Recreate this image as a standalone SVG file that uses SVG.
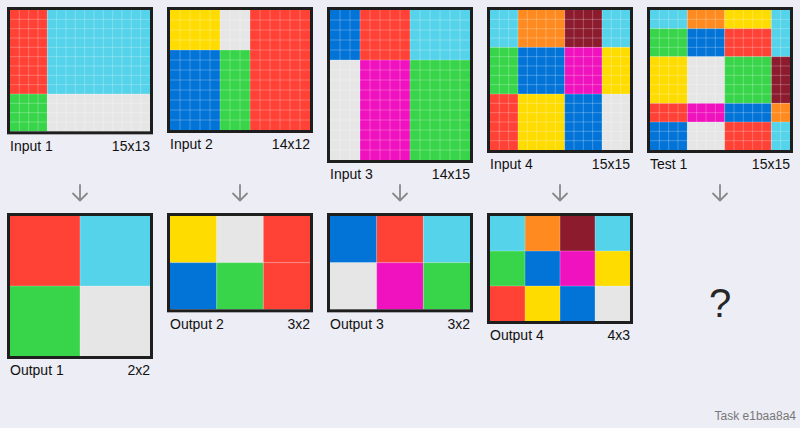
<svg xmlns="http://www.w3.org/2000/svg" width="800" height="428" viewBox="0 0 800 428">
<style>
.bg{fill:#ededf5}
.R{fill:#ff4136}.C{fill:#55d3ea}.G{fill:#38d54a}.Y{fill:#ffdc00}.B{fill:#0274d8}.W{fill:#e6e6e6}.M{fill:#f012be}.O{fill:#ff8a1f}.N{fill:#8c1b2e}
.gl{fill:none;stroke:#ffffff;stroke-opacity:0.32;stroke-width:0.8}
.fr{fill:none;stroke:#1e1e1e;stroke-width:3}
.lb{font-family:"Liberation Sans",Arial,Helvetica,sans-serif;font-size:14px;fill:#111}
.rt{text-anchor:end}
.ar{fill:none;stroke:#888;stroke-width:1.8;stroke-linecap:round;stroke-linejoin:round}
</style>
<rect class="bg" x="0" y="0" width="800" height="428"/>

<g id="input1">
<g transform="translate(10,10) scale(9.33333)">
<rect class="R" x="0" y="0" width="4" height="9"/>
<rect class="C" x="4" y="0" width="11" height="9"/>
<rect class="G" x="0" y="9" width="4" height="4"/>
<rect class="W" x="4" y="9" width="11" height="4"/>
<path class="gl" vector-effect="non-scaling-stroke" d="M1 0V13M2 0V13M3 0V13M4 0V13M5 0V13M6 0V13M7 0V13M8 0V13M9 0V13M10 0V13M11 0V13M12 0V13M13 0V13M14 0V13M0 1H15M0 2H15M0 3H15M0 4H15M0 5H15M0 6H15M0 7H15M0 8H15M0 9H15M0 10H15M0 11H15M0 12H15"/>
</g>
<rect class="fr" x="8.5" y="8.5" width="143" height="124.33"/>
<text class="lb" x="10" y="150.5">Input 1</text>
<text class="lb rt" x="150" y="150.5">15x13</text>
</g>

<g id="input2">
<g transform="translate(170,10) scale(10)">
<rect class="Y" x="0" y="0" width="5" height="4"/>
<rect class="W" x="5" y="0" width="3" height="4"/>
<rect class="R" x="8" y="0" width="6" height="12"/>
<rect class="B" x="0" y="4" width="5" height="8"/>
<rect class="G" x="5" y="4" width="3" height="8"/>
<path class="gl" vector-effect="non-scaling-stroke" d="M1 0V12M2 0V12M3 0V12M4 0V12M5 0V12M6 0V12M7 0V12M8 0V12M9 0V12M10 0V12M11 0V12M12 0V12M13 0V12M0 1H14M0 2H14M0 3H14M0 4H14M0 5H14M0 6H14M0 7H14M0 8H14M0 9H14M0 10H14M0 11H14"/>
</g>
<rect class="fr" x="168.5" y="8.5" width="143" height="123"/>
<text class="lb" x="170" y="149">Input 2</text>
<text class="lb rt" x="310" y="149">14x12</text>
</g>

<g id="input3">
<g transform="translate(330,10) scale(10)">
<rect class="B" x="0" y="0" width="3" height="5"/>
<rect class="R" x="3" y="0" width="5" height="5"/>
<rect class="C" x="8" y="0" width="6" height="5"/>
<rect class="W" x="0" y="5" width="3" height="10"/>
<rect class="M" x="3" y="5" width="5" height="10"/>
<rect class="G" x="8" y="5" width="6" height="10"/>
<path class="gl" vector-effect="non-scaling-stroke" d="M1 0V15M2 0V15M3 0V15M4 0V15M5 0V15M6 0V15M7 0V15M8 0V15M9 0V15M10 0V15M11 0V15M12 0V15M13 0V15M0 1H14M0 2H14M0 3H14M0 4H14M0 5H14M0 6H14M0 7H14M0 8H14M0 9H14M0 10H14M0 11H14M0 12H14M0 13H14M0 14H14"/>
</g>
<rect class="fr" x="328.5" y="8.5" width="143" height="153"/>
<text class="lb" x="330" y="179">Input 3</text>
<text class="lb rt" x="470" y="179">14x15</text>
</g>

<g id="input4">
<g transform="translate(490,10) scale(9.33333)">
<rect class="C" x="0" y="0" width="3" height="4"/>
<rect class="O" x="3" y="0" width="5" height="4"/>
<rect class="N" x="8" y="0" width="4" height="4"/>
<rect class="C" x="12" y="0" width="3" height="4"/>
<rect class="G" x="0" y="4" width="3" height="5"/>
<rect class="B" x="3" y="4" width="5" height="5"/>
<rect class="M" x="8" y="4" width="4" height="5"/>
<rect class="Y" x="12" y="4" width="3" height="5"/>
<rect class="R" x="0" y="9" width="3" height="6"/>
<rect class="Y" x="3" y="9" width="5" height="6"/>
<rect class="B" x="8" y="9" width="4" height="6"/>
<rect class="W" x="12" y="9" width="3" height="6"/>
<path class="gl" vector-effect="non-scaling-stroke" d="M1 0V15M2 0V15M3 0V15M4 0V15M5 0V15M6 0V15M7 0V15M8 0V15M9 0V15M10 0V15M11 0V15M12 0V15M13 0V15M14 0V15M0 1H15M0 2H15M0 3H15M0 4H15M0 5H15M0 6H15M0 7H15M0 8H15M0 9H15M0 10H15M0 11H15M0 12H15M0 13H15M0 14H15"/>
</g>
<rect class="fr" x="488.5" y="8.5" width="143" height="143"/>
<text class="lb" x="490" y="169">Input 4</text>
<text class="lb rt" x="630" y="169">15x15</text>
</g>

<g id="test1">
<g transform="translate(650,10) scale(9.33333)">
<rect class="C" x="0" y="0" width="4" height="2"/>
<rect class="O" x="4" y="0" width="4" height="2"/>
<rect class="Y" x="8" y="0" width="5" height="2"/>
<rect class="C" x="13" y="0" width="2" height="5"/>
<rect class="G" x="0" y="2" width="4" height="3"/>
<rect class="B" x="4" y="2" width="4" height="3"/>
<rect class="R" x="8" y="2" width="5" height="3"/>
<rect class="Y" x="0" y="5" width="4" height="5"/>
<rect class="W" x="4" y="5" width="4" height="5"/>
<rect class="G" x="8" y="5" width="5" height="5"/>
<rect class="N" x="13" y="5" width="2" height="5"/>
<rect class="R" x="0" y="10" width="4" height="2"/>
<rect class="M" x="4" y="10" width="4" height="2"/>
<rect class="B" x="8" y="10" width="5" height="2"/>
<rect class="O" x="13" y="10" width="2" height="2"/>
<rect class="B" x="0" y="12" width="4" height="3"/>
<rect class="W" x="4" y="12" width="4" height="3"/>
<rect class="R" x="8" y="12" width="5" height="3"/>
<rect class="C" x="13" y="12" width="2" height="3"/>
<path class="gl" vector-effect="non-scaling-stroke" d="M1 0V15M2 0V15M3 0V15M4 0V15M5 0V15M6 0V15M7 0V15M8 0V15M9 0V15M10 0V15M11 0V15M12 0V15M13 0V15M14 0V15M0 1H15M0 2H15M0 3H15M0 4H15M0 5H15M0 6H15M0 7H15M0 8H15M0 9H15M0 10H15M0 11H15M0 12H15M0 13H15M0 14H15"/>
</g>
<rect class="fr" x="648.5" y="8.5" width="143" height="143"/>
<text class="lb" x="650" y="169">Test 1</text>
<text class="lb rt" x="790" y="169">15x15</text>
</g>

<g id="output1">
<g transform="translate(10,216) scale(70)">
<rect class="R" x="0" y="0" width="1" height="1"/>
<rect class="C" x="1" y="0" width="1" height="1"/>
<rect class="G" x="0" y="1" width="1" height="1"/>
<rect class="W" x="1" y="1" width="1" height="1"/>
<path class="gl" vector-effect="non-scaling-stroke" d="M1 0V2M0 1H2"/>
</g>
<rect class="fr" x="8.5" y="214.5" width="143" height="143"/>
<text class="lb" x="10" y="375">Output 1</text>
<text class="lb rt" x="150" y="375">2x2</text>
</g>

<g id="output2">
<g transform="translate(170,216) scale(46.6667)">
<rect class="Y" x="0" y="0" width="1" height="1"/>
<rect class="W" x="1" y="0" width="1" height="1"/>
<rect class="R" x="2" y="0" width="1" height="1"/>
<rect class="B" x="0" y="1" width="1" height="1"/>
<rect class="G" x="1" y="1" width="1" height="1"/>
<rect class="R" x="2" y="1" width="1" height="1"/>
<path class="gl" vector-effect="non-scaling-stroke" d="M1 0V2M2 0V2M0 1H3"/>
</g>
<rect class="fr" x="168.5" y="214.5" width="143" height="96.33"/>
<text class="lb" x="170" y="328.5">Output 2</text>
<text class="lb rt" x="310" y="328.5">3x2</text>
</g>

<g id="output3">
<g transform="translate(330,216) scale(46.6667)">
<rect class="B" x="0" y="0" width="1" height="1"/>
<rect class="R" x="1" y="0" width="1" height="1"/>
<rect class="C" x="2" y="0" width="1" height="1"/>
<rect class="W" x="0" y="1" width="1" height="1"/>
<rect class="M" x="1" y="1" width="1" height="1"/>
<rect class="G" x="2" y="1" width="1" height="1"/>
<path class="gl" vector-effect="non-scaling-stroke" d="M1 0V2M2 0V2M0 1H3"/>
</g>
<rect class="fr" x="328.5" y="214.5" width="143" height="96.33"/>
<text class="lb" x="330" y="328.5">Output 3</text>
<text class="lb rt" x="470" y="328.5">3x2</text>
</g>

<g id="output4">
<g transform="translate(490,216) scale(35)">
<rect class="C" x="0" y="0" width="1" height="1"/>
<rect class="O" x="1" y="0" width="1" height="1"/>
<rect class="N" x="2" y="0" width="1" height="1"/>
<rect class="C" x="3" y="0" width="1" height="1"/>
<rect class="G" x="0" y="1" width="1" height="1"/>
<rect class="B" x="1" y="1" width="1" height="1"/>
<rect class="M" x="2" y="1" width="1" height="1"/>
<rect class="Y" x="3" y="1" width="1" height="1"/>
<rect class="R" x="0" y="2" width="1" height="1"/>
<rect class="Y" x="1" y="2" width="1" height="1"/>
<rect class="B" x="2" y="2" width="1" height="1"/>
<rect class="W" x="3" y="2" width="1" height="1"/>
<path class="gl" vector-effect="non-scaling-stroke" d="M1 0V3M2 0V3M3 0V3M0 1H4M0 2H4"/>
</g>
<rect class="fr" x="488.5" y="214.5" width="143" height="108"/>
<text class="lb" x="490" y="340">Output 4</text>
<text class="lb rt" x="630" y="340">4x3</text>
</g>

<g id="test-output">
<text x="720" y="317" text-anchor="middle" style="font-family:'Liberation Sans',Arial,Helvetica,sans-serif;font-size:40px;fill:#262626">?</text>
</g>

<g id="connectors">
<path class="ar" d="M80 185V200.5M73 193.5L80 200.5L87 193.5"/>
<path class="ar" d="M240 185V200.5M233 193.5L240 200.5L247 193.5"/>
<path class="ar" d="M400 185V200.5M393 193.5L400 200.5L407 193.5"/>
<path class="ar" d="M560 185V200.5M553 193.5L560 200.5L567 193.5"/>
<path class="ar" d="M720 185V200.5M713 193.5L720 200.5L727 193.5"/>
</g>

<text x="796" y="420" text-anchor="end" style="font-family:'Liberation Sans',Arial,Helvetica,sans-serif;font-size:12px;fill:#777">Task e1baa8a4</text>
</svg>
